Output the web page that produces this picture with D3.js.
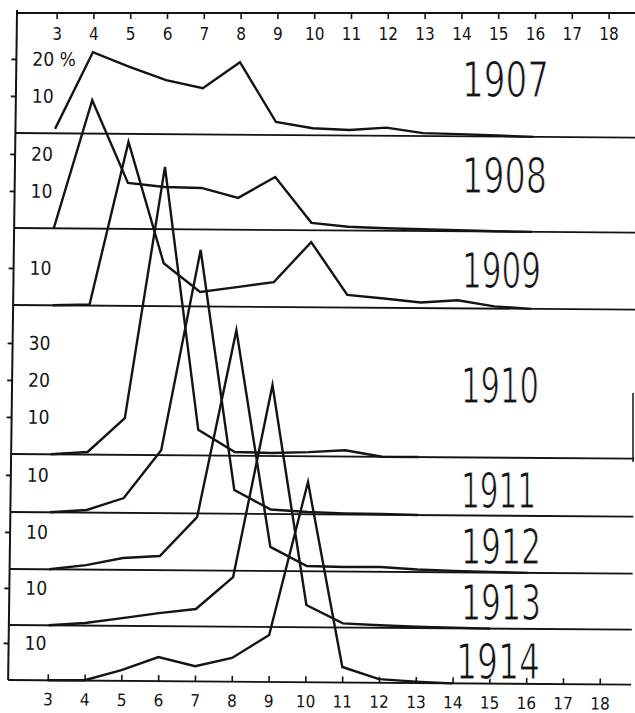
<!DOCTYPE html>
<html>
<head>
<meta charset="utf-8">
<script src="https://cdn.jsdelivr.net/npm/d3@7"></script>
<style>
  html, body { margin: 0; padding: 0; background: #fff; }
  svg { display: block; }
</style>
</head>
<body>
<svg id="chart" width="635" height="713"></svg>
<script>
// Age classes (years) along the horizontal axis
const ages = [3, 4, 5, 6, 7, 8, 9, 10, 11, 12, 13, 14, 15, 16, 17, 18];
// Sample years, one stacked panel each, top to bottom
const years = ["1907", "1908", "1909", "1910", "1911", "1912", "1913", "1914"];

// Percentage of each age class in the sample, listed from age 3 upward
const pct1907 = [1.2, 22.0, 18.1, 14.6, 12.5, 19.6, 3.5, 1.9, 1.5, 2.2, 0.8, 0.6, 0.3, 0];
const pct1908 = [0, 34.7, 12.4, 11.4, 11.2, 8.6, 14.3, 2.0, 1.0, 0.7, 0.5, 0.3, 0.1, 0];
const pct1909 = [0, 0.3, 44.3, 11.6, 3.9, 5.3, 6.7, 17.6, 3.4, 2.5, 1.5, 2.2, 0.6, 0];
const pct1910 = [0, 0.7, 9.9, 77.9, 6.9, 1.0, 0.8, 1.1, 1.7, 0, 0];
const pct1911 = [0, 0.7, 4.0, 17.0, 71.2, 6.4, 1.2, 0.6, 0.3, 0.2, 0];
const pct1912 = [0, 1.2, 3.2, 3.8, 14.4, 65.0, 6.5, 1.4, 1.2, 1.3, 0.7, 0.4, 0.2, 0];
const pct1913 = [0, 0.7, 2.1, 3.5, 4.7, 13.4, 65.4, 6.0, 1.1, 0.7, 0.4, 0.2, 0];
const pct1914 = [0, 0.1, 2.9, 6.5, 4.1, 6.4, 12.7, 54.1, 4.2, 1.0, 0.4, 0];

// Percent marks on the left edge of each panel
const ticks1907 = [10, 20], labels1907 = ["10", "20 %"];
const ticks1908 = [10, 20], labels1908 = ["10", "20"];
const ticks1909 = [10],     labels1909 = ["10"];
const ticks1910 = [10, 20, 30], labels1910 = ["10", "20", "30"];
const ticks1911 = [10], labels1911 = ["10"];
const ticks1912 = [10], labels1912 = ["10"];
const ticks1913 = [10], labels1913 = ["10"];
const ticks1914 = [10], labels1914 = ["10"];

const series = [pct1907, pct1908, pct1909, pct1910, pct1911, pct1912, pct1913, pct1914];
const tickSets = [ticks1907, ticks1908, ticks1909, ticks1910, ticks1911, ticks1912, ticks1913, ticks1914];
const labelSets = [labels1907, labels1908, labels1909, labels1910, labels1911, labels1912, labels1913, labels1914];

// ---- layout ----
const W = 635, H = 713;
const frameL = 17, frameT = 13, frameR = 640;
const pxPerPct = 3.7;
const panelBase = [133, 228, 305, 454, 512, 569, 625, 680];
const yearPos = [[462, 97], [462, 193], [462, 288], [461, 403], [461, 508], [461, 564], [461, 620], [456, 679]];
const yearLen = [87, 85, 79, 78, 75, 80, 80, 84];
const ink = "#141414";
const skewX = -0.0133, tiltY = 0.0075;
const smallFont = "'DejaVu Sans Condensed', 'DejaVu Sans', sans-serif";

const svg = d3.select("#chart");
svg.append("rect").attr("width", W).attr("height", H).attr("fill", "#fff");

const x = d3.scaleLinear().domain([3, 18]).range([56.6, 56.6 + 36.8 * 15]);

// the plate is drawn slightly sheared, as printed
const plate = svg.append("g")
  .attr("transform", `matrix(1,${tiltY},${skewX},1,${-frameT * skewX},${-frameL * tiltY})`);

// left frame line
plate.append("line")
  .attr("x1", frameL).attr("x2", frameL).attr("y1", frameT - 3).attr("y2", panelBase[7])
  .attr("stroke", ink).attr("stroke-width", 2);

// panel baselines
plate.selectAll("line.base").data(panelBase).join("line")
  .attr("class", "base")
  .attr("x1", frameL).attr("x2", frameR)
  .attr("y1", d => d).attr("y2", d => d)
  .attr("stroke", ink).attr("stroke-width", 1.8);

const line = d3.line().x(d => x(d.age)).y(d => d.y);

series.forEach((vals, i) => {
  const y = d3.scaleLinear().domain([0, 100]).range([panelBase[i], panelBase[i] - 100 * pxPerPct]);
  const pts = vals.map((v, k) => ({ age: ages[k], y: y(v) }));
  plate.append("path")
    .attr("d", line(pts))
    .attr("fill", "none")
    .attr("stroke", ink)
    .attr("stroke-width", 2.4)
    .attr("stroke-linejoin", "miter")
    .attr("stroke-miterlimit", 6);

  // percent scale for this panel
  const labs = labelSets[i];
  const ax = plate.append("g")
    .attr("transform", `translate(${frameL},0)`)
    .call(d3.axisRight(y).tickValues(tickSets[i])
      .tickSizeInner(-5).tickSizeOuter(0).tickPadding(16)
      .tickFormat((d, k) => labs[k]));
  ax.select(".domain").remove();
  ax.selectAll("line").attr("stroke", ink).attr("stroke-width", 1.8);
  ax.selectAll("text")
    .attr("fill", ink)
    .style("font-family", smallFont)
    .style("font-size", "19px");
});

// bottom age axis (ticks pointing up into the plot)
const bottomAxis = plate.append("g")
  .attr("transform", `translate(0,${panelBase[7]})`)
  .call(d3.axisBottom(x).tickValues(ages).tickSizeInner(-6).tickSizeOuter(0).tickPadding(13)
    .tickFormat(d3.format("d")));
bottomAxis.select(".domain").remove();
bottomAxis.selectAll("line").attr("stroke", ink).attr("stroke-width", 1.6);
bottomAxis.selectAll("text")
  .attr("fill", ink)
  .style("font-family", smallFont)
  .style("font-size", "17px");

// top age axis (labels under the frame line)
svg.append("line")
  .attr("x1", frameL).attr("x2", frameR).attr("y1", frameT).attr("y2", frameT)
  .attr("stroke", ink).attr("stroke-width", 2);
const topAxis = svg.append("g")
  .attr("transform", `translate(0,${frameT})`)
  .call(d3.axisBottom(x).tickValues(ages).tickSizeInner(6).tickSizeOuter(0).tickPadding(9)
    .tickFormat(d3.format("d")));
topAxis.select(".domain").remove();
topAxis.selectAll("line").attr("stroke", ink).attr("stroke-width", 1.6);
topAxis.selectAll("text")
  .attr("fill", ink)
  .style("font-family", smallFont)
  .style("font-size", "17px");

// right frame fragment
svg.append("line")
  .attr("x1", 633).attr("x2", 633).attr("y1", 393).attr("y2", 462)
  .attr("stroke", ink).attr("stroke-width", 1.5);

// year captions, set in a light condensed face
svg.selectAll("text.year").data(years).join("text")
  .attr("class", "year")
  .attr("x", (d, i) => yearPos[i][0])
  .attr("y", (d, i) => yearPos[i][1])
  .attr("textLength", (d, i) => yearLen[i])
  .attr("lengthAdjust", "spacingAndGlyphs")
  .attr("fill", ink)
  .attr("stroke", "#fff")
  .attr("stroke-width", 1.1)
  .style("font-family", "'Liberation Sans Narrow', 'DejaVu Sans Condensed', 'Liberation Sans', sans-serif")
  .style("font-size", "50px")
  .text(d => d);
</script>
</body>
</html>
